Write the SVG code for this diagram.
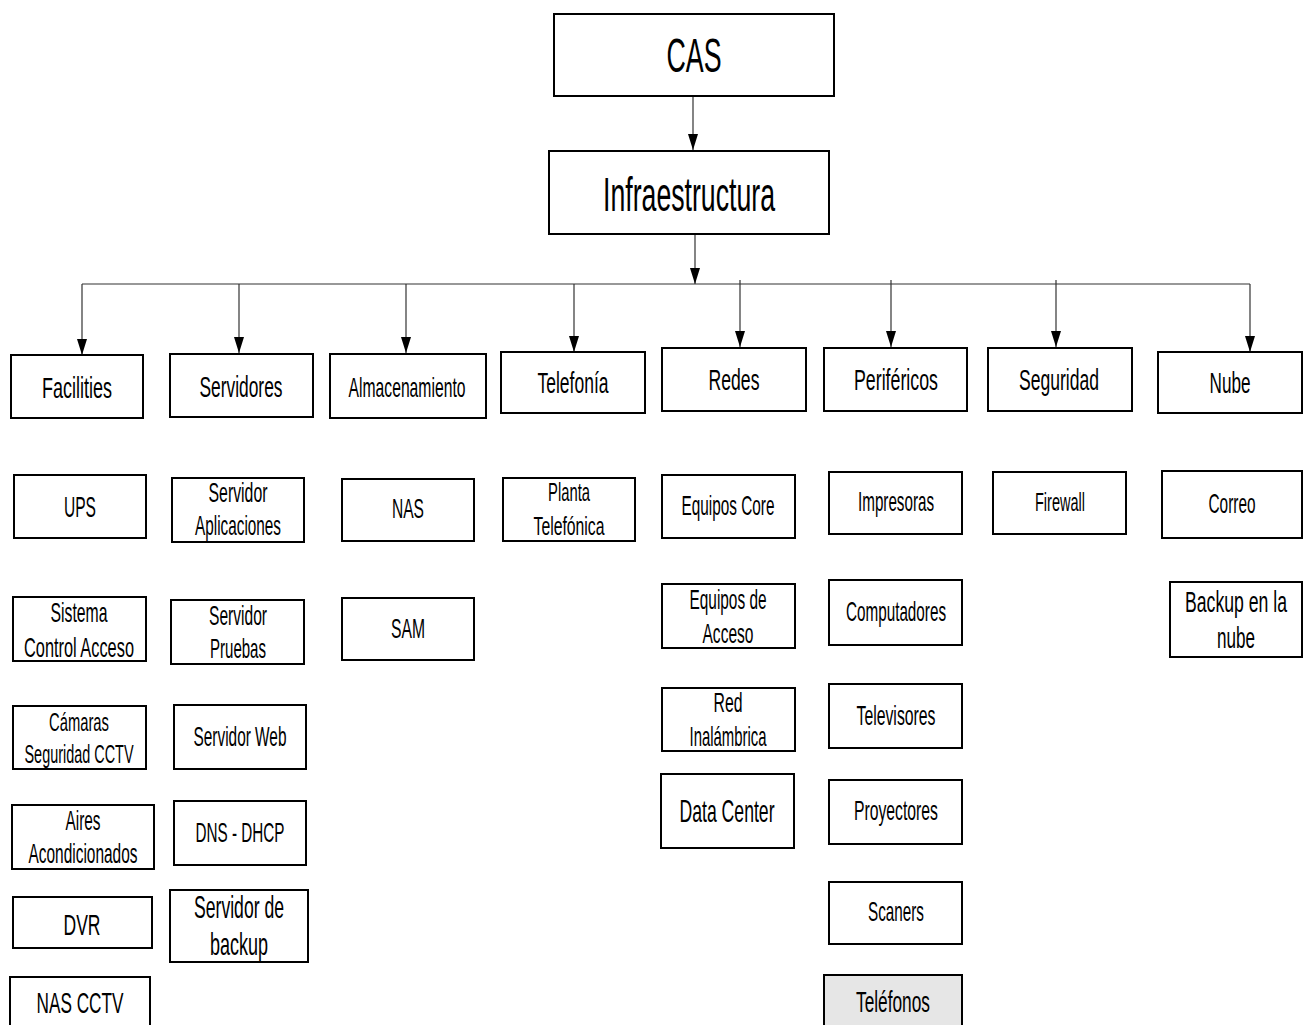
<svg xmlns="http://www.w3.org/2000/svg" width="1304" height="1025" viewBox="0 0 1304 1025">
  <style>
    .box { fill: #ffffff; stroke: #000000; stroke-width: 2; }
    .gray { fill: #e6e6e6; }
    .lbl { font-family: "Liberation Sans", Arial, sans-serif; fill: #000000; text-anchor: middle; }
    .t48 { font-size: 48px; }
    .t30 { font-size: 30px; }
    .t28 { font-size: 28px; }
    .t26 { font-size: 26px; }
    .t32 { font-size: 32px; }
    .wire { fill: none; stroke: #333333; stroke-width: 1.2; }
  </style>
  <defs>
    <marker id="arrow" viewBox="0 0 16 10" refX="16" refY="5" markerWidth="16" markerHeight="10" orient="auto" markerUnits="userSpaceOnUse">
      <path d="M0,0 L16,5 L0,10 Z" fill="#000000"/>
    </marker>
  </defs>

  <!-- connectors -->
  <g id="connectors">
    <line class="wire" x1="693" y1="97" x2="693" y2="150" marker-end="url(#arrow)"/>
    <line class="wire" x1="695" y1="227" x2="695" y2="284" marker-end="url(#arrow)"/>
    <line class="wire" x1="82" y1="284" x2="1250" y2="284"/>
    <line class="wire" x1="82" y1="284" x2="82" y2="355" marker-end="url(#arrow)"/>
    <line class="wire" x1="239" y1="284" x2="239" y2="353" marker-end="url(#arrow)"/>
    <line class="wire" x1="406" y1="284" x2="406" y2="353" marker-end="url(#arrow)"/>
    <line class="wire" x1="574" y1="284" x2="574" y2="352" marker-end="url(#arrow)"/>
    <line class="wire" x1="740" y1="280" x2="740" y2="347" marker-end="url(#arrow)"/>
    <line class="wire" x1="891" y1="280" x2="891" y2="347" marker-end="url(#arrow)"/>
    <line class="wire" x1="1056" y1="280" x2="1056" y2="347" marker-end="url(#arrow)"/>
    <line class="wire" x1="1250" y1="284" x2="1250" y2="352" marker-end="url(#arrow)"/>
  </g>

  <!-- top levels -->
  <g id="cas">
    <rect class="box" x="554" y="14" width="280" height="82"/>
    <text class="lbl t48" x="694" y="72" textLength="55" lengthAdjust="spacingAndGlyphs">CAS</text>
  </g>
  <g id="infraestructura">
    <rect class="box" x="549" y="151" width="280" height="83"/>
    <text class="lbl t48" x="689" y="211" textLength="172" lengthAdjust="spacingAndGlyphs">Infraestructura</text>
  </g>

  <!-- categories -->
  <g id="facilities">
    <rect class="box" x="11" y="355" width="132" height="63"/>
    <text class="lbl t30" x="77" y="398" textLength="70" lengthAdjust="spacingAndGlyphs">Facilities</text>
  </g>
  <g id="servidores">
    <rect class="box" x="170" y="354" width="143" height="63"/>
    <text class="lbl t30" x="241" y="397" textLength="83" lengthAdjust="spacingAndGlyphs">Servidores</text>
  </g>
  <g id="almacenamiento">
    <rect class="box" x="330" y="354" width="156" height="64"/>
    <text class="lbl t28" x="407" y="397" textLength="117" lengthAdjust="spacingAndGlyphs">Almacenamiento</text>
  </g>
  <g id="telefonia">
    <rect class="box" x="501" y="352" width="144" height="61"/>
    <text class="lbl t30" x="573" y="393" textLength="71" lengthAdjust="spacingAndGlyphs">Telefonía</text>
  </g>
  <g id="redes">
    <rect class="box" x="662" y="348" width="144" height="63"/>
    <text class="lbl t30" x="734" y="390" textLength="51" lengthAdjust="spacingAndGlyphs">Redes</text>
  </g>
  <g id="perifericos">
    <rect class="box" x="824" y="348" width="143" height="63"/>
    <text class="lbl t30" x="896" y="390" textLength="84" lengthAdjust="spacingAndGlyphs">Periféricos</text>
  </g>
  <g id="seguridad">
    <rect class="box" x="988" y="348" width="144" height="63"/>
    <text class="lbl t30" x="1059" y="390" textLength="80" lengthAdjust="spacingAndGlyphs">Seguridad</text>
  </g>
  <g id="nube">
    <rect class="box" x="1158" y="352" width="144" height="61"/>
    <text class="lbl t30" x="1230" y="393" textLength="41" lengthAdjust="spacingAndGlyphs">Nube</text>
  </g>

  <!-- Facilities items -->
  <g id="ups">
    <rect class="box" x="14" y="475" width="132" height="63"/>
    <text class="lbl t30" x="80" y="517" textLength="32" lengthAdjust="spacingAndGlyphs">UPS</text>
  </g>
  <g id="control-acceso">
    <rect class="box" x="13" y="597" width="133" height="64"/>
    <text class="lbl t28" x="79" y="622" textLength="57" lengthAdjust="spacingAndGlyphs">Sistema</text>
    <text class="lbl t28" x="79" y="657" textLength="110" lengthAdjust="spacingAndGlyphs">Control Acceso</text>
  </g>
  <g id="camaras">
    <rect class="box" x="13" y="706" width="133" height="63"/>
    <text class="lbl t26" x="79" y="731" textLength="60" lengthAdjust="spacingAndGlyphs">Cámaras</text>
    <text class="lbl t26" x="79" y="763" textLength="109" lengthAdjust="spacingAndGlyphs">Seguridad CCTV</text>
  </g>
  <g id="aires">
    <rect class="box" x="12" y="805" width="142" height="64"/>
    <text class="lbl t28" x="83" y="830" textLength="35" lengthAdjust="spacingAndGlyphs">Aires</text>
    <text class="lbl t28" x="83" y="863" textLength="109" lengthAdjust="spacingAndGlyphs">Acondicionados</text>
  </g>
  <g id="dvr">
    <rect class="box" x="13" y="897" width="139" height="51"/>
    <text class="lbl t30" x="82" y="935" textLength="37" lengthAdjust="spacingAndGlyphs">DVR</text>
  </g>
  <g id="nas-cctv">
    <rect class="box" x="10" y="977" width="140" height="60"/>
    <text class="lbl t30" x="80" y="1013" textLength="87" lengthAdjust="spacingAndGlyphs">NAS CCTV</text>
  </g>

  <!-- Servidores items -->
  <g id="srv-aplicaciones">
    <rect class="box" x="172" y="478" width="132" height="64"/>
    <text class="lbl t28" x="238" y="502" textLength="59" lengthAdjust="spacingAndGlyphs">Servidor</text>
    <text class="lbl t28" x="238" y="535" textLength="86" lengthAdjust="spacingAndGlyphs">Aplicaciones</text>
  </g>
  <g id="srv-pruebas">
    <rect class="box" x="171" y="600" width="133" height="64"/>
    <text class="lbl t28" x="238" y="625" textLength="58" lengthAdjust="spacingAndGlyphs">Servidor</text>
    <text class="lbl t28" x="238" y="658" textLength="56" lengthAdjust="spacingAndGlyphs">Pruebas</text>
  </g>
  <g id="srv-web">
    <rect class="box" x="174" y="705" width="132" height="64"/>
    <text class="lbl t28" x="240" y="746" textLength="93" lengthAdjust="spacingAndGlyphs">Servidor Web</text>
  </g>
  <g id="dns-dhcp">
    <rect class="box" x="174" y="801" width="132" height="64"/>
    <text class="lbl t28" x="240" y="842" textLength="89" lengthAdjust="spacingAndGlyphs">DNS - DHCP</text>
  </g>
  <g id="srv-backup">
    <rect class="box" x="170" y="890" width="138" height="72"/>
    <text class="lbl t32" x="239" y="918" textLength="90" lengthAdjust="spacingAndGlyphs">Servidor de</text>
    <text class="lbl t32" x="239" y="955" textLength="58" lengthAdjust="spacingAndGlyphs">backup</text>
  </g>

  <!-- Almacenamiento items -->
  <g id="nas">
    <rect class="box" x="342" y="479" width="132" height="62"/>
    <text class="lbl t28" x="408" y="518" textLength="32" lengthAdjust="spacingAndGlyphs">NAS</text>
  </g>
  <g id="sam">
    <rect class="box" x="342" y="598" width="132" height="62"/>
    <text class="lbl t28" x="408" y="638" textLength="34" lengthAdjust="spacingAndGlyphs">SAM</text>
  </g>

  <!-- Telefonía items -->
  <g id="planta">
    <rect class="box" x="503" y="478" width="132" height="63"/>
    <text class="lbl t26" x="569" y="501" textLength="42" lengthAdjust="spacingAndGlyphs">Planta</text>
    <text class="lbl t26" x="569" y="535" textLength="71" lengthAdjust="spacingAndGlyphs">Telefónica</text>
  </g>

  <!-- Redes items -->
  <g id="equipos-core">
    <rect class="box" x="662" y="475" width="133" height="63"/>
    <text class="lbl t28" x="728" y="515" textLength="93" lengthAdjust="spacingAndGlyphs">Equipos Core</text>
  </g>
  <g id="equipos-acceso">
    <rect class="box" x="662" y="584" width="133" height="64"/>
    <text class="lbl t28" x="728" y="609" textLength="77" lengthAdjust="spacingAndGlyphs">Equipos de</text>
    <text class="lbl t28" x="728" y="643" textLength="51" lengthAdjust="spacingAndGlyphs">Acceso</text>
  </g>
  <g id="red-inalambrica">
    <rect class="box" x="662" y="688" width="133" height="63"/>
    <text class="lbl t28" x="728" y="712" textLength="29" lengthAdjust="spacingAndGlyphs">Red</text>
    <text class="lbl t28" x="728" y="746" textLength="77" lengthAdjust="spacingAndGlyphs">Inalámbrica</text>
  </g>
  <g id="data-center">
    <rect class="box" x="661" y="774" width="133" height="74"/>
    <text class="lbl t32" x="727" y="822" textLength="95" lengthAdjust="spacingAndGlyphs">Data Center</text>
  </g>

  <!-- Periféricos items -->
  <g id="impresoras">
    <rect class="box" x="829" y="472" width="133" height="62"/>
    <text class="lbl t28" x="896" y="511" textLength="76" lengthAdjust="spacingAndGlyphs">Impresoras</text>
  </g>
  <g id="computadores">
    <rect class="box" x="829" y="580" width="133" height="65"/>
    <text class="lbl t28" x="896" y="621" textLength="100" lengthAdjust="spacingAndGlyphs">Computadores</text>
  </g>
  <g id="televisores">
    <rect class="box" x="829" y="684" width="133" height="64"/>
    <text class="lbl t28" x="896" y="725" textLength="79" lengthAdjust="spacingAndGlyphs">Televisores</text>
  </g>
  <g id="proyectores">
    <rect class="box" x="829" y="780" width="133" height="64"/>
    <text class="lbl t28" x="896" y="820" textLength="84" lengthAdjust="spacingAndGlyphs">Proyectores</text>
  </g>
  <g id="scaners">
    <rect class="box" x="829" y="882" width="133" height="62"/>
    <text class="lbl t28" x="896" y="921" textLength="56" lengthAdjust="spacingAndGlyphs">Scaners</text>
  </g>
  <g id="telefonos">
    <rect class="box gray" x="824" y="975" width="138" height="62"/>
    <text class="lbl t30" x="893" y="1012" textLength="74" lengthAdjust="spacingAndGlyphs">Teléfonos</text>
  </g>

  <!-- Seguridad items -->
  <g id="firewall">
    <rect class="box" x="993" y="472" width="133" height="62"/>
    <text class="lbl t26" x="1060" y="511" textLength="50" lengthAdjust="spacingAndGlyphs">Firewall</text>
  </g>

  <!-- Nube items -->
  <g id="correo">
    <rect class="box" x="1162" y="471" width="140" height="67"/>
    <text class="lbl t28" x="1232" y="513" textLength="47" lengthAdjust="spacingAndGlyphs">Correo</text>
  </g>
  <g id="backup-nube">
    <rect class="box" x="1170" y="582" width="132" height="75"/>
    <text class="lbl t30" x="1236" y="612" textLength="102" lengthAdjust="spacingAndGlyphs">Backup en la</text>
    <text class="lbl t30" x="1236" y="648" textLength="38" lengthAdjust="spacingAndGlyphs">nube</text>
  </g>
</svg>
